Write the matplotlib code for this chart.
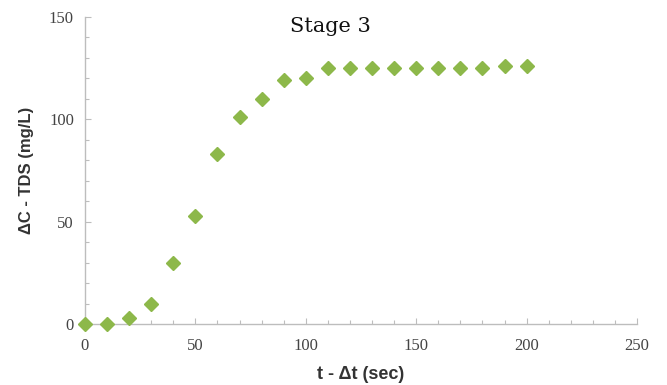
import matplotlib
matplotlib.use("Agg")
import matplotlib.pyplot as plt
from matplotlib.ticker import MultipleLocator

time_s = [0, 10, 20, 30, 40, 50, 60, 70, 80, 90, 100, 110, 120, 130, 140, 150, 160, 170, 180, 190, 200]
delta_tds = [0, 0, 3, 10, 30, 53, 83, 101, 110, 119, 120, 125, 125, 125, 125, 125, 125, 125, 125, 126, 126]
x_ticks = [0, 50, 100, 150, 200, 250]
y_ticks = [0, 50, 100, 150]

fig = plt.figure(figsize=(6.67, 3.85), dpi=100)
ax = fig.add_axes([0.1274, 0.1584, 0.8276, 0.7974])

ax.plot(time_s, delta_tds, linestyle="none", marker="D", markersize=7,
        color="#8DB84A", markeredgecolor="#8DB84A", clip_on=False, zorder=5)

ax.set_xlim(0, 250)
ax.set_ylim(0, 150)
ax.set_xticks(x_ticks)
ax.set_yticks(y_ticks)
ax.xaxis.set_minor_locator(MultipleLocator(10))
ax.yaxis.set_minor_locator(MultipleLocator(10))

for s in ["top", "right"]:
    ax.spines[s].set_visible(False)
for s in ["left", "bottom"]:
    ax.spines[s].set_color("#BDBDBD")
    ax.spines[s].set_linewidth(1.0)

ax.tick_params(which="both", direction="in", color="#BDBDBD", width=0.8)
ax.tick_params(which="major", length=4)
ax.tick_params(which="minor", length=3)
ax.tick_params(axis="x", which="major", pad=10)
ax.tick_params(axis="y", which="major", pad=8)

for lab in ax.get_xticklabels() + ax.get_yticklabels():
    lab.set_fontfamily("Liberation Serif")
    lab.set_fontsize(12)
    lab.set_color("#444444")

ax.set_xlabel("t - \u0394t (sec)", fontfamily="Liberation Sans", fontweight="bold",
              fontsize=13, color="#333333", labelpad=9)
ax.set_ylabel("\u0394C - TDS (mg/L)", fontfamily="Liberation Sans", fontweight="bold",
              fontsize=12, color="#333333", labelpad=11)

fig.text(0.495, 0.93, "Stage 3", fontfamily="DejaVu Serif", fontsize=15,
         color="#111111", ha="center", va="center")

fig.savefig("out.png", dpi=100)
